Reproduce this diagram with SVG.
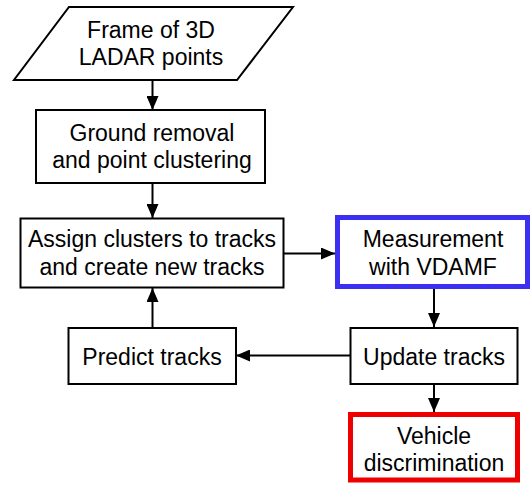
<svg xmlns="http://www.w3.org/2000/svg" width="530" height="483" viewBox="0 0 530 483">
  <style>
    .box { fill: #ffffff; stroke: #000000; stroke-width: 2; }
    .blue { fill: #ffffff; stroke: #3b2ff2; stroke-width: 5; }
    .red { fill: #ffffff; stroke: #ee0000; stroke-width: 5; }
    .lbl { font-family: "Liberation Sans", Arial, Helvetica, sans-serif; font-size: 23px; fill: #000000; text-anchor: middle; }
    .edge { fill: none; stroke: #000000; stroke-width: 2; }
  </style>
  <defs>
    <marker id="arrow" markerUnits="userSpaceOnUse" markerWidth="14" markerHeight="12" refX="14" refY="6" orient="auto">
      <path d="M0,0 L14,6 L0,12 Z" fill="#000000"/>
    </marker>
  </defs>

  <rect x="0" y="0" width="530" height="483" fill="#ffffff"/>

  <g id="input">
    <polygon class="box" points="69,7 293,7 237,80 14,80"/>
    <text class="lbl" x="151" y="38">Frame of 3D</text>
    <text class="lbl" x="151" y="65">LADAR points</text>
  </g>

  <g id="ground-removal">
    <rect class="box" x="36" y="110" width="229" height="73"/>
    <text class="lbl" x="152" y="141">Ground removal</text>
    <text class="lbl" x="152" y="168">and point clustering</text>
  </g>

  <g id="assign">
    <rect class="box" x="20.5" y="218.5" width="263" height="69"/>
    <text class="lbl" x="152" y="247">Assign clusters to tracks</text>
    <text class="lbl" x="152" y="275">and create new tracks</text>
  </g>

  <g id="measurement">
    <rect class="blue" x="337.5" y="217.5" width="190" height="69"/>
    <text class="lbl" x="433" y="247">Measurement</text>
    <text class="lbl" x="433" y="275">with VDAMF</text>
  </g>

  <g id="predict">
    <rect class="box" x="68.5" y="328" width="167.5" height="56"/>
    <text class="lbl" x="152" y="365">Predict tracks</text>
  </g>

  <g id="update">
    <rect class="box" x="350.5" y="328" width="167" height="56"/>
    <text class="lbl" x="434" y="365">Update tracks</text>
  </g>

  <g id="vehicle">
    <rect class="red" x="350.5" y="414.5" width="167" height="65.5"/>
    <text class="lbl" x="434" y="444">Vehicle</text>
    <text class="lbl" x="434" y="471">discrimination</text>
  </g>

  <g id="connectors">
    <line class="edge" x1="152.5" y1="80" x2="152.5" y2="110" marker-end="url(#arrow)"/>
    <line class="edge" x1="152.5" y1="183" x2="152.5" y2="218" marker-end="url(#arrow)"/>
    <line class="edge" x1="284" y1="253.5" x2="335" y2="253.5" marker-end="url(#arrow)"/>
    <line class="edge" x1="434" y1="289" x2="434" y2="327" marker-end="url(#arrow)"/>
    <line class="edge" x1="350" y1="355.5" x2="236" y2="355.5" marker-end="url(#arrow)"/>
    <line class="edge" x1="152.5" y1="327" x2="152.5" y2="288" marker-end="url(#arrow)"/>
    <line class="edge" x1="434" y1="384" x2="434" y2="412" marker-end="url(#arrow)"/>
  </g>
</svg>
